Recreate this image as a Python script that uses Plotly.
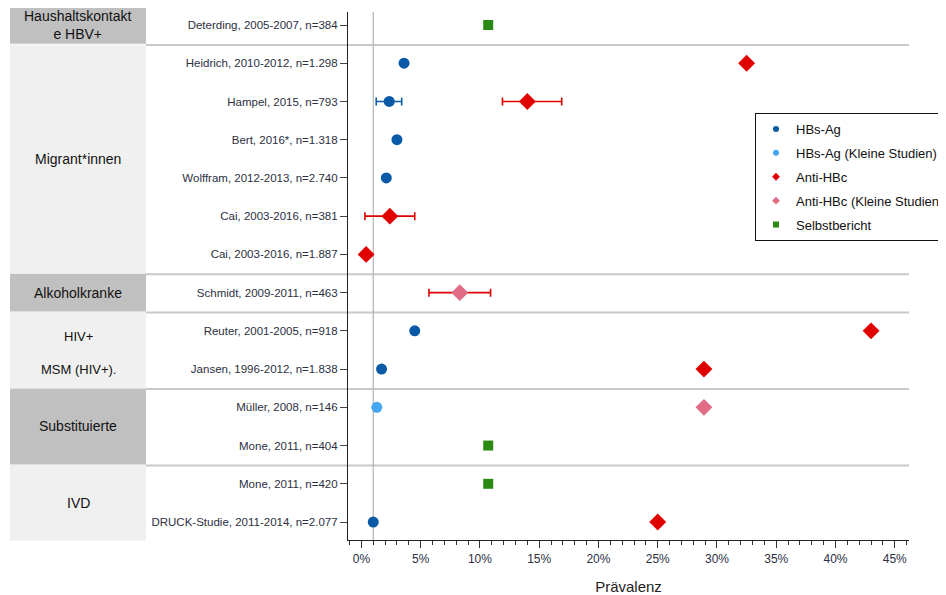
import plotly.graph_objects as go

# ---------------- data ----------------
studies = [
    "Deterding, 2005-2007, n=384",
    "Heidrich, 2010-2012, n=1.298",
    "Hampel, 2015, n=793",
    "Bert, 2016*, n=1.318",
    "Wolffram, 2012-2013, n=2.740",
    "Cai, 2003-2016, n=381",
    "Cai, 2003-2016, n=1.887",
    "Schmidt, 2009-2011, n=463",
    "Reuter, 2001-2005, n=918",
    "Jansen, 1996-2012, n=1.838",
    "Müller, 2008, n=146",
    "Mone, 2011, n=404",
    "Mone, 2011, n=420",
    "DRUCK-Studie, 2011-2014, n=2.077",
]

# HBs-Ag (row index, value, ci_low, ci_high)
hbs_rows = [1, 2, 3, 4, 8, 9, 13]
hbs_vals = [3.6, 2.35, 3.0, 2.1, 4.5, 1.7, 1.0]
hbs_lo = [None, 1.25, None, None, None, None, None]
hbs_hi = [None, 3.4, None, None, None, None, None]

hbs_small_rows = [10]
hbs_small_vals = [1.3]

anti_rows = [1, 2, 5, 6, 8, 9, 13]
anti_vals = [32.5, 14.0, 2.4, 0.4, 43.0, 28.9, 25.0]
anti_lo = [None, 11.9, 0.3, 0.2, None, None, None]
anti_hi = [None, 16.9, 4.5, 0.6, None, None, None]

anti_small_rows = [7, 10]
anti_small_vals = [8.3, 28.9]
anti_small_lo = [5.7, None]
anti_small_hi = [10.9, None]

self_rows = [0, 11, 12]
self_vals = [10.7, 10.7, 10.7]

groups = [
    ("Haushaltskontakt<br>e HBV+", 0, 0, "dark"),
    ("Migrant*innen", 1, 6, "light"),
    ("Alkoholkranke", 7, 7, "dark"),
    ("", 8, 9, "light"),
    ("Substituierte", 10, 11, "dark"),
    ("IVD", 12, 13, "light"),
]
hiv_labels = [("HIV+", 8.15), ("MSM (HIV+).", 9.0)]

x_ticks = [0, 5, 10, 15, 20, 25, 30, 35, 40, 45]
x_ticklabels = [f"{t}%" for t in x_ticks]

# ---------------- style ----------------
C_HBS = "#0a5aa8"
C_HBS_S = "#45a6f2"
C_ANTI = "#e00000"
C_ANTI_S = "#e06c86"
C_SELF = "#2a8a14"
FONT = "Liberation Sans, Arial, sans-serif"

Y_RANGE = [13.47, -0.34]

# page body has an 8px default margin; figure is sized so that it fills the window
W, H = 938, 587
ML, MR, MT, MB = 340, 37, 4, 55
PW = W - ML - MR


def ypaper(r):
    return (Y_RANGE[0] - r) / (Y_RANGE[0] - Y_RANGE[1])


def xpaper_px(px):
    # px measured in window pixels
    return (px - 8 - ML) / PW


def errs(vals, lo, hi):
    plus = [(h - v) if h is not None else 0 for v, h in zip(vals, hi)]
    minus = [(v - l) if l is not None else 0 for v, l in zip(vals, lo)]
    return plus, minus


fig = go.Figure()

p, m = errs(hbs_vals, hbs_lo, hbs_hi)
fig.add_trace(go.Scatter(
    x=hbs_vals, y=hbs_rows, mode="markers", showlegend=False,
    marker=dict(symbol="circle", size=11, color=C_HBS),
    error_x=dict(type="data", array=p, arrayminus=m, color=C_HBS, thickness=1.6, width=4),
))
fig.add_trace(go.Scatter(
    x=hbs_small_vals, y=hbs_small_rows, mode="markers", showlegend=False,
    marker=dict(symbol="circle", size=11, color=C_HBS_S),
))
p, m = errs(anti_vals, anti_lo, anti_hi)
fig.add_trace(go.Scatter(
    x=anti_vals, y=anti_rows, mode="markers", showlegend=False,
    marker=dict(symbol="diamond", size=13, color=C_ANTI),
    error_x=dict(type="data", array=p, arrayminus=m, color=C_ANTI, thickness=1.6, width=4),
))
p, m = errs(anti_small_vals, anti_small_lo, anti_small_hi)
fig.add_trace(go.Scatter(
    x=anti_small_vals, y=anti_small_rows, mode="markers", showlegend=False,
    marker=dict(symbol="diamond", size=13, color=C_ANTI_S),
    error_x=dict(type="data", array=p, arrayminus=m, color=C_ANTI, thickness=1.6, width=4),
))
fig.add_trace(go.Scatter(
    x=self_vals, y=self_rows, mode="markers", showlegend=False,
    marker=dict(symbol="square", size=10, color=C_SELF),
))

# legend-only entries
leg = [
    ("HBs-Ag", "circle", C_HBS),
    ("HBs-Ag (Kleine Studien)", "circle", C_HBS_S),
    ("Anti-HBc", "diamond", C_ANTI),
    ("Anti-HBc (Kleine Studien)", "diamond", C_ANTI_S),
    ("Selbstbericht", "square", C_SELF),
]
for i, (name, sym, col) in enumerate(leg):
    fig.add_trace(go.Scatter(
        x=[None], y=[None], mode="markers", name=name, legendgroup=f"g{i}",
        marker=dict(symbol=sym, size=6, color=col),
    ))

shapes = []
annotations = []
BOX_X0 = xpaper_px(10)
BOX_X1 = xpaper_px(146)
for label, r0, r1, shade in groups:
    top = ypaper(r0 - 0.52) - 0.002
    bot = ypaper(r1 + 0.52) + 0.002
    shapes.append(dict(
        type="rect", xref="paper", yref="paper", x0=BOX_X0, x1=BOX_X1, y0=bot, y1=top,
        fillcolor="#c0c0c0" if shade == "dark" else "#f0f0f0", line=dict(width=0), layer="below",
    ))
    if label:
        annotations.append(dict(
            xref="paper", yref="y", x=(BOX_X0 + BOX_X1) / 2, y=(r0 + r1) / 2, text=label,
            xanchor="center", yanchor="middle",
            showarrow=False, font=dict(family=FONT, size=14, color="#111111"),
        ))
for label, r in hiv_labels:
    annotations.append(dict(
        xref="paper", yref="y", x=(BOX_X0 + BOX_X1) / 2, y=r, text=label,
        xanchor="center", yanchor="middle",
        showarrow=False, font=dict(family=FONT, size=13, color="#111111"),
    ))
# separators between groups
for _, r0, r1, _s in groups[:-1]:
    yy = ypaper(r1 + 0.52)
    shapes.append(dict(
        type="line", xref="paper", yref="paper", x0=BOX_X1, x1=1, y0=yy, y1=yy,
        line=dict(color="#c8c8c8", width=2), layer="below",
    ))
# vertical reference line at 1%
shapes.append(dict(
    type="line", xref="x", yref="paper", x0=1, x1=1, y0=0, y1=1,
    line=dict(color="#b4b4b4", width=1.2), layer="below",
))

fig.update_layout(
    width=W, height=H,
    margin=dict(l=ML, r=MR, t=MT, b=MB, autoexpand=False),
    paper_bgcolor="white", plot_bgcolor="white",
    font=dict(family=FONT, size=12, color="#2b2f3f"),
    shapes=shapes, annotations=annotations,
    showlegend=True,
    legend=dict(
        x=xpaper_px(755), y=(H - MB - (113 - 8)) / (H - MT - MB), xanchor="left", yanchor="top",
        bgcolor="white", bordercolor="#111111", borderwidth=1,
        font=dict(family=FONT, size=13, color="#111111"),
        tracegroupgap=4, itemclick=False,
    ),
    xaxis=dict(
        range=[-1.13, 46.2], tickvals=x_ticks, ticktext=x_ticklabels,
        ticks="outside", ticklen=7, tickcolor="#333333", tickwidth=1,
        minor=dict(dtick=1, ticks="outside", ticklen=4, tickcolor="#333333"),
        showline=True, linecolor="#222222", linewidth=1.2,
        showgrid=False, zeroline=False,
        tickfont=dict(family=FONT, size=12, color="#2b2f3f"),
        title=dict(text="Prävalenz", standoff=18, font=dict(family=FONT, size=15, color="#222222")),
    ),
    yaxis=dict(
        range=Y_RANGE, tickvals=list(range(len(studies))), ticktext=studies,
        ticks="outside", ticklen=7, tickcolor="#444444",
        showline=True, linecolor="#222222", linewidth=1.2,
        showgrid=False, zeroline=False,
        tickfont=dict(family=FONT, size=11.5, color="#2b2f3f"),
    ),
)

fig.write_html("out.html")
